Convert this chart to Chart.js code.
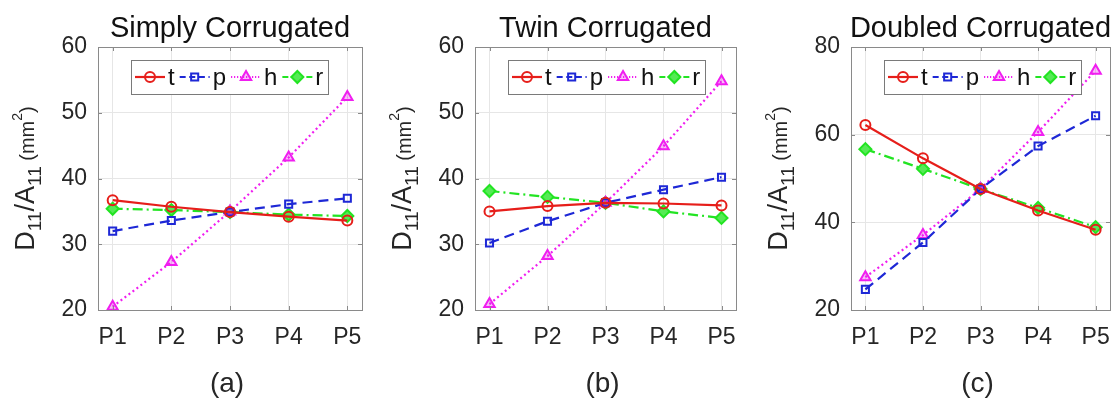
<!DOCTYPE html>
<html>
<head>
<meta charset="utf-8">
<script src="https://cdn.jsdelivr.net/npm/chart.js@4.4.1/dist/chart.umd.min.js"></script>
<style>
  html, body { margin: 0; padding: 0; background: #fff; }
  #wrap { position: relative; width: 1118px; height: 401px; overflow: hidden; background: #fff; }
  #wrap canvas { position: absolute; top: 0; }
</style>
</head>
<body>
<div id="wrap">
  <canvas id="ca" width="372" height="401" style="left:0px"></canvas>
  <canvas id="cb" width="372" height="401" style="left:372px"></canvas>
  <canvas id="cc" width="374" height="401" style="left:744px"></canvas>
</div>
<script>
// Design points along the horizontal axis
const positions = ['P1', 'P2', 'P3', 'P4', 'P5'];
const seriesNames = ['t', 'p', 'h', 'r'];

// D11/A11 (mm^2) — simply corrugated core
const simplyT = [36.7, 35.7, 34.9, 34.2, 33.6];
const simplyP = [32.0, 33.6, 34.9, 36.1, 37.0];
const simplyH = [20.5, 27.3, 35.0, 43.2, 52.4];
const simplyR = [35.4, 35.2, 34.9, 34.5, 34.3];

// twin corrugated core
const twinT = [35.0, 35.8, 36.3, 36.2, 35.9];
const twinP = [30.2, 33.5, 36.3, 38.3, 40.2];
const twinH = [20.9, 28.2, 36.3, 44.9, 54.8];
const twinR = [38.1, 37.2, 36.3, 35.0, 34.0];

// doubled corrugated core
const doubledT = [62.2, 54.6, 47.6, 42.7, 38.3];
const doubledP = [24.7, 35.4, 47.6, 57.4, 64.3];
const doubledH = [27.5, 37.1, 47.6, 60.6, 74.6];
const doubledR = [56.7, 52.2, 47.6, 43.3, 38.9];

// y tick values
const yTicksAB = [20, 30, 40, 50, 60];
const yTicksC = [20, 40, 60, 80];

const FONT = "'Liberation Sans', Arial, Helvetica, sans-serif";
const TEXT = '#262626';
const BOX = '#8a8a8a';
const GRID = '#e6e6e6';
const H = 401, PLOT_TOP = 47, PLOT_BOTTOM = 310;

// line / marker appearance per series
const styles = [
  { color: '#e61e1a', dash: [],            point: 'circle',   radius: 5, fill: 'rgba(0,0,0,0)' },
  { color: '#1e28d6', dash: [10, 6],       point: 'rect',     radius: 5, fill: 'rgba(0,0,0,0)' },
  { color: '#f01ef0', dash: [2, 3],        point: 'triangle', radius: 6, fill: 'rgba(240,30,240,0.3)' },
  { color: '#22e422', dash: [10, 4, 2, 4], point: 'rectRot',  radius: 6, fill: '#55ea55' }
];

function drawMarker(ctx, st, x, y) {
  ctx.save();
  ctx.setLineDash([]);
  ctx.lineWidth = 2;
  ctx.strokeStyle = st.color;
  ctx.fillStyle = st.fill;
  Chart.helpers.drawPoint(ctx, { pointStyle: st.point, rotation: 0, radius: st.radius, borderWidth: 2 }, x, y);
  ctx.restore();
}

function drawYLabel(ctx, xBase, yCenter) {
  const parts = [
    { t: 'D',    size: 27, dy: 0 },
    { t: '11',   size: 19, dy: 7 },
    { t: '/A',   size: 27, dy: 0 },
    { t: '11',   size: 19, dy: 7 },
    { t: ' (mm', size: 20, dy: 0 },
    { t: '2',    size: 14, dy: -12 },
    { t: ')',    size: 20, dy: 0 }
  ];
  ctx.save();
  let total = 0;
  parts.forEach(p => { ctx.font = p.size + 'px ' + FONT; p.w = ctx.measureText(p.t).width; total += p.w; });
  ctx.translate(xBase, yCenter);
  ctx.rotate(-Math.PI / 2);
  ctx.fillStyle = TEXT;
  ctx.textBaseline = 'alphabetic';
  ctx.textAlign = 'left';
  let x = -total / 2;
  parts.forEach(p => { ctx.font = p.size + 'px ' + FONT; ctx.fillText(p.t, x, p.dy); x += p.w; });
  ctx.restore();
}

// axes box, inward ticks, legend and panel texts
const panelDecor = {
  id: 'panelDecor',
  afterDatasetsDraw(chart, args, opts) {
    const ctx = chart.ctx;
    const a = chart.chartArea;
    const xs = chart.scales.x, ys = chart.scales.y;
    ctx.save();
    ctx.strokeStyle = BOX;
    ctx.lineWidth = 1;
    ctx.setLineDash([]);
    ctx.strokeRect(Math.round(a.left) + 0.5, Math.round(a.top) + 0.5, Math.round(a.right - a.left), Math.round(a.bottom - a.top));
    ctx.beginPath();
    xs.ticks.forEach(t => {
      const px = Math.round(xs.getPixelForValue(t.value)) + 0.5;
      ctx.moveTo(px, a.bottom); ctx.lineTo(px, a.bottom - 4);
      ctx.moveTo(px, a.top); ctx.lineTo(px, a.top + 4);
    });
    ys.ticks.forEach(t => {
      const py = Math.round(ys.getPixelForValue(t.value)) + 0.5;
      ctx.moveTo(a.left, py); ctx.lineTo(a.left + 4, py);
      ctx.moveTo(a.right, py); ctx.lineTo(a.right - 4, py);
    });
    ctx.stroke();

    // legend
    const lx = a.left + 33, ly = a.top + 13, lh = 34;
    ctx.font = '24px ' + FONT;
    let x = lx + 4;
    const items = [];
    seriesNames.forEach((n, k) => {
      const tw = ctx.measureText(n).width;
      items.push({ n, k, x, tw });
      x += 30 + 3 + tw + 5;
    });
    const lw = x - 5 + 5 - lx;
    ctx.fillStyle = '#fff';
    ctx.fillRect(lx, ly, lw, lh);
    ctx.strokeStyle = '#7a7a7a';
    ctx.strokeRect(Math.round(lx) + 0.5, ly + 0.5, Math.round(lw), lh);
    const cy = ly + lh / 2;
    items.forEach(it => {
      const st = styles[it.k];
      ctx.save();
      ctx.strokeStyle = st.color;
      ctx.lineWidth = 2.2;
      ctx.setLineDash(st.dash.length ? st.dash.map(d => d * 0.6) : []);
      ctx.beginPath();
      ctx.moveTo(it.x, cy); ctx.lineTo(it.x + 30, cy);
      ctx.stroke();
      ctx.restore();
      drawMarker(ctx, st, it.x + 15, cy);
      ctx.fillStyle = '#111';
      ctx.textBaseline = 'middle';
      ctx.textAlign = 'left';
      ctx.font = '24px ' + FONT;
      ctx.fillText(it.n, it.x + 33, cy + 1);
    });
    ctx.restore();
  },
  afterDraw(chart, args, opts) {
    const ctx = chart.ctx;
    const a = chart.chartArea;
    const cx = (a.left + a.right) / 2;
    ctx.save();
    ctx.fillStyle = '#111';
    ctx.textAlign = 'center';
    ctx.textBaseline = 'alphabetic';
    ctx.font = '29px ' + FONT;
    ctx.fillText(opts.title, cx, 37);
    ctx.fillStyle = TEXT;
    ctx.font = '28px ' + FONT;
    ctx.fillText(opts.caption, cx - 3, 392);
    ctx.restore();
    drawYLabel(ctx, a.left - 64, (a.top + a.bottom) / 2);
  }
};

const panels = [
  { id: 'ca', width: 372, plotLeft: 98,  plotRight: 362, title: 'Simply Corrugated',  caption: '(a)',
    series: [simplyT, simplyP, simplyH, simplyR], yTicks: yTicksAB },
  { id: 'cb', width: 372, plotLeft: 103, plotRight: 366, title: 'Twin Corrugated',    caption: '(b)',
    series: [twinT, twinP, twinH, twinR], yTicks: yTicksAB },
  { id: 'cc', width: 374, plotLeft: 107, plotRight: 372, title: 'Doubled Corrugated', caption: '(c)',
    series: [doubledT, doubledP, doubledH, doubledR], yTicks: yTicksC }
];

panels.forEach(p => {
  const yMin = p.yTicks[0], yMax = p.yTicks[p.yTicks.length - 1];
  new Chart(document.getElementById(p.id), {
    type: 'line',
    data: {
      datasets: p.series.map((vals, k) => ({
        label: seriesNames[k],
        data: vals.map((v, i) => ({ x: i + 1, y: v })),
        borderColor: styles[k].color,
        borderWidth: 2.2,
        borderDash: styles[k].dash,
        pointStyle: styles[k].point,
        pointRadius: styles[k].radius,
        pointBorderColor: styles[k].color,
        pointBackgroundColor: styles[k].fill,
        pointBorderWidth: 2,
        tension: 0,
        fill: false,
        clip: false
      }))
    },
    options: {
      responsive: false,
      animation: false,
      devicePixelRatio: 1,
      layout: { padding: { left: 0, top: PLOT_TOP, right: p.width - p.plotRight, bottom: 0 } },
      plugins: {
        legend: { display: false },
        tooltip: { enabled: false },
        panelDecor: { title: p.title, caption: p.caption }
      },
      scales: {
        x: {
          type: 'linear',
          min: 0.75,
          max: 5.25,
          afterBuildTicks: s => { s.ticks = positions.map((_, i) => ({ value: i + 1 })); },
          afterFit: s => { s.height = H - PLOT_BOTTOM; s.paddingLeft = 0; s.paddingRight = 0; },
          ticks: {
            callback: v => positions[Math.round(v) - 1] || '',
            font: { size: 23, family: FONT },
            color: TEXT,
            padding: 14,
            maxRotation: 0,
            autoSkip: false
          },
          grid: { color: GRID, drawTicks: false },
          border: { display: false }
        },
        y: {
          min: yMin,
          max: yMax,
          afterBuildTicks: s => { s.ticks = p.yTicks.map(v => ({ value: v })); },
          afterFit: s => { s.width = p.plotLeft; s.paddingTop = 0; s.paddingBottom = 0; },
          ticks: {
            font: { size: 23, family: FONT },
            color: TEXT,
            padding: 11
          },
          grid: { color: GRID, drawTicks: false },
          border: { display: false }
        }
      }
    },
    plugins: [panelDecor]
  });
});
</script>
</body>
</html>
